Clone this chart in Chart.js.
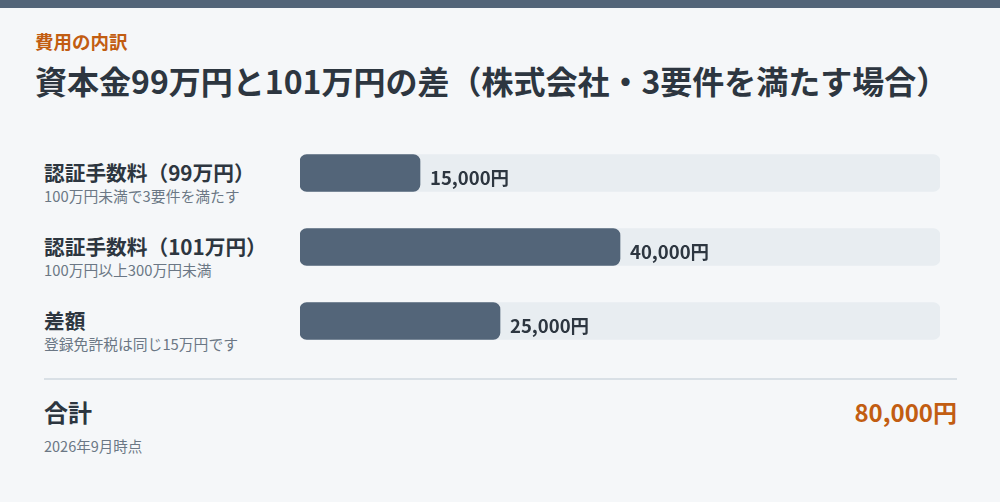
<!DOCTYPE html>
<html lang="ja">
<head>
<meta charset="utf-8">
<script src="https://cdn.jsdelivr.net/npm/chart.js@4"></script>
<style>
  body { margin: 0; width: 1000px; height: 502px; background: #f5f7f9; font-family: "Noto Sans CJK JP", "Noto Sans", sans-serif; overflow: hidden; position: relative; }
  .topbar { position: absolute; left: 0; top: 0; width: 1000px; height: 8px; background: #536579; }
  .eyebrow { position: absolute; left: 35px; top: 29px; font-size: 18.5px; font-weight: 700; color: #c25d12; line-height: 24px; }
  .title { position: absolute; left: 35px; top: 59px; font-size: 32px; font-weight: 700; color: #2d3640; line-height: 42px; white-space: nowrap; }
  .row { position: absolute; left: 44px; }
  .row .name { font-size: 20.7px; font-weight: 700; color: #2d3640; line-height: 26px; white-space: nowrap; }
  .row .sub { font-size: 14.8px; color: #6b7785; line-height: 20px; white-space: nowrap; margin-top: 1px; }
  #wrap { position: absolute; left: 300px; top: 136px; width: 640px; height: 222px; }
  .divider { position: absolute; left: 44px; top: 378px; width: 913px; height: 2px; background: #d9e0e6; }
  .total { position: absolute; left: 44px; top: 397px; font-size: 24px; font-weight: 700; color: #2d3640; line-height: 30px; }
  .totalval { position: absolute; right: 43px; top: 397px; font-size: 24px; font-weight: 700; color: #c25d12; line-height: 30px; }
  .note { position: absolute; left: 44px; top: 436px; font-size: 14.5px; color: #6b7785; line-height: 20px; }
</style>
</head>
<body>
<div class="topbar"></div>
<div class="eyebrow">費用の内訳</div>
<div class="title">資本金99万円と101万円の差（株式会社・3要件を満たす場合）</div>
<div id="rows"></div>
<div id="wrap"><canvas id="chart"></canvas></div>
<div class="divider"></div>
<div class="total">合計</div>
<div class="totalval" id="totalval"></div>
<div class="note">2026年9月時点</div>
<script>
// 項目
var categories = ['認証手数料（99万円）', '認証手数料（101万円）', '差額'];
var subLabels = ['100万円未満で3要件を満たす', '100万円以上300万円未満', '登録免許税は同じ15万円です'];
var amounts = [15000, 40000, 25000];
var total = 80000;

function yen(v) {
    return v.toLocaleString('en-US') + '円';
}

// 左側のラベル
var rowsHtml = '';
for (var i = 0; i < categories.length; i++) {
    rowsHtml += '<div class="row" style="top:' + (159 + i * 74) + 'px">';
    rowsHtml += '<div class="name">' + categories[i] + '</div>';
    rowsHtml += '<div class="sub">' + subLabels[i] + '</div>';
    rowsHtml += '</div>';
}
document.getElementById('rows').innerHTML = rowsHtml;
document.getElementById('totalval').textContent = yen(total);

// バーの右に金額を書く
const valueLabels = {
    id: 'valueLabels',
    afterDatasetsDraw(chart) {
        const ctx = chart.ctx;
        const meta = chart.getDatasetMeta(0);
        ctx.save();
        ctx.font = '700 18.5px "Noto Sans CJK JP", sans-serif';
        ctx.fillStyle = '#2d3640';
        ctx.textBaseline = 'middle';
        meta.data.forEach(function (bar, i) {
            ctx.fillText(yen(amounts[i]), bar.x + 10, bar.y + 5);
        });
        ctx.restore();
    }
};

new Chart(document.getElementById('chart'), {
    type: 'bar',
    data: {
        labels: categories,
        datasets: [{
            label: '金額',
            data: amounts,
            backgroundColor: '#536579',
            borderRadius: 7,
            borderSkipped: false,
            barThickness: 37,
            grouped: false,
            order: 0
        }, {
            label: 'track',
            data: categories.map(function () { return total; }),
            backgroundColor: '#e8edf1',
            borderRadius: 7,
            borderSkipped: false,
            barThickness: 37,
            grouped: false,
            order: 1
        }]
    },
    options: {
        indexAxis: 'y',
        responsive: true,
        maintainAspectRatio: false,
        animation: false,
        layout: { padding: 0 },
        plugins: { legend: { display: false }, tooltip: { enabled: false } },
        scales: {
            x: { display: false, min: 0, max: total },
            y: { display: false }
        }
    },
    plugins: [valueLabels]
});
</script>
</body>
</html>
